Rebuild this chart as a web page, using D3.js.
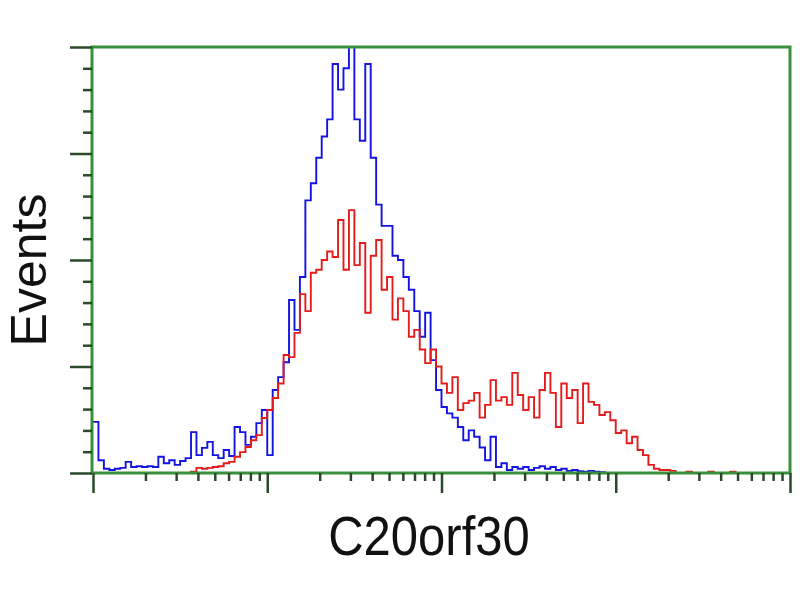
<!DOCTYPE html>
<html>
<head>
<meta charset="utf-8">
<script src="https://cdn.jsdelivr.net/npm/d3@7"></script>
<style>
  body { margin: 0; background: #fff; }
  svg text { font-family: "Liberation Sans", Arial, sans-serif; fill: #111; }
</style>
</head>
<body>
<div id="chart"></div>
<script>
// histogram: 128 channels spread over 4 log decades
const decades = [1, 10, 100, 1000, 10000];
const minorSteps = [2, 3, 4, 5, 6, 7, 8, 9];
const yMajor = [0, 25, 50, 75, 100];
const yMinor = [5, 10, 15, 20, 30, 35, 40, 45, 55, 60, 65, 70, 80, 85, 90, 95];
const channelsPerDecade = 32;

// unstained control (blue)
const controlCounts = [
  12, 3, 1, 0.7, 1, 1.2, 2.6, 1.4, 1.6, 1.4,
  1.6, 1.4, 3.8, 2.3, 3, 1.9, 2.8, 3.5, 9.6, 4.2,
  5.9, 7.3, 4.2, 3.5, 5.4, 4, 10.8, 9.6, 6.6, 8.5,
  11.7, 14.8, 4.2, 19.5, 22.5, 26, 40.6, 33.6, 46, 64,
  68, 74, 79, 83, 96, 90, 95, 100, 83, 78,
  96, 74, 63, 58, 58, 51, 50, 46, 43, 38,
  32, 37.6, 26.5, 19.5, 15.5, 14, 13, 10.8, 7.7, 10,
  8.5, 6, 3, 8.5, 1.4, 2.3, 0.7, 1.4, 1, 1.4,
  0.7, 1.2, 1.6, 1, 1.4, 0.7, 1, 0.5, 0.7, 0.4,
  0.3, 0.5, 0.3, 0.2, 0, 0, 0, 0, 0, 0,
  0, 0, 0, 0, 0, 0, 0, 0, 0, 0,
  0, 0, 0, 0, 0, 0, 0, 0, 0, 0,
  0, 0, 0, 0, 0, 0, 0, 0
];

// C20orf30 stained (red)
const stainedCounts = [
  0, 0, 0, 0, 0, 0, 0, 0, 0, 0,
  0, 0, 0, 0, 0, 0, 0, 0, 0.3, 1.2,
  1, 1.2, 1.4, 1.6, 2.3, 2.6, 3.8, 4.9, 6.1, 7.7,
  8.9, 12.9, 14.8, 17.6, 21, 27.7, 27.2, 32.9, 42, 38,
  47, 47.7, 50, 52, 50.7, 59.4, 47.7, 61.7, 48.8, 54,
  37.6, 51, 54.7, 43, 46, 36, 41, 38, 32, 33.6,
  29, 25.8, 29, 25, 21, 18.8, 22.5, 14.8, 16.4, 17,
  18.8, 13, 16, 21.8, 17, 17.8, 16, 23.5, 18.3, 14.8,
  17.8, 13, 19.5, 23.5, 18.8, 10.8, 21, 17.6, 19.5, 11.7,
  21, 16.7, 16, 13.6, 14.3, 12.4, 9.4, 10, 7, 8.5,
  5.4, 4.2, 1.9, 1, 0.7, 0.7, 0.5, 0, 0, 0.3,
  0, 0, 0, 0.3, 0, 0, 0, 0.3, 0, 0,
  0, 0, 0, 0, 0, 0, 0, 0
];

const plotLeft = 93, plotRight = 790, plotTop = 47, plotBottom = 473;

const svg = d3.select("#chart").append("svg")
  .attr("width", 800).attr("height", 600);

const x = d3.scaleLog().domain([1, 10000]).range([plotLeft, plotRight]);
const y = d3.scaleLinear().domain([0, 100]).range([plotBottom, plotTop]);

const chanValue = i => Math.pow(10, i / channelsPerDecade);

function histPath(counts) {
  const pts = counts.map((c, i) => [chanValue(i), c]);
  pts.push([chanValue(counts.length), counts[counts.length - 1]]);
  return d3.line()
    .x(d => x(d[0]))
    .y(d => y(d[1]))
    .curve(d3.curveStepAfter)(pts);
}

svg.append("path")
  .attr("d", histPath(controlCounts))
  .attr("fill", "none")
  .attr("stroke", "#1414e0")
  .attr("stroke-width", 1.9);

svg.append("path")
  .attr("d", histPath(stainedCounts))
  .attr("fill", "none")
  .attr("stroke", "#e41c1c")
  .attr("stroke-width", 1.9);

// frame
svg.append("rect")
  .attr("x", plotLeft - 1).attr("y", plotTop)
  .attr("width", plotRight - plotLeft + 1).attr("height", plotBottom - plotTop)
  .attr("fill", "none")
  .attr("stroke", "#3a8f3a")
  .attr("stroke-width", 3);

const tickColor = "#2a4a2a";

// x ticks
const xMinorVals = [];
decades.slice(0, -1).forEach(d => minorSteps.forEach(m => xMinorVals.push(d * m)));

const xAxisMajor = svg.append("g")
  .attr("transform", `translate(0,${plotBottom})`)
  .call(d3.axisBottom(x).tickValues(decades).tickSize(20).tickFormat(""));
const xAxisMinor = svg.append("g")
  .attr("transform", `translate(0,${plotBottom})`)
  .call(d3.axisBottom(x).tickValues(xMinorVals).tickSize(8).tickFormat(""));

// y ticks
const yAxisMajor = svg.append("g")
  .attr("transform", `translate(${plotLeft - 1},0)`)
  .call(d3.axisLeft(y).tickValues(yMajor).tickSize(22).tickFormat(""));
const yAxisMinor = svg.append("g")
  .attr("transform", `translate(${plotLeft - 1},0)`)
  .call(d3.axisLeft(y).tickValues(yMinor).tickSize(9).tickFormat(""));

[xAxisMajor, xAxisMinor, yAxisMajor, yAxisMinor].forEach(g => {
  g.select(".domain").remove();
  g.selectAll(".tick line").attr("stroke", tickColor).attr("stroke-width", 2.5);
});

// labels
svg.append("text")
  .attr("transform", "translate(46,270) rotate(-90)")
  .attr("text-anchor", "middle")
  .style("font-size", "50px")
  .text("Events");

svg.append("text")
  .attr("transform", "translate(429,555) scale(1,1.15)")
  .attr("text-anchor", "middle")
  .style("font-size", "49px")
  .text("C20orf30");
</script>
</body>
</html>
